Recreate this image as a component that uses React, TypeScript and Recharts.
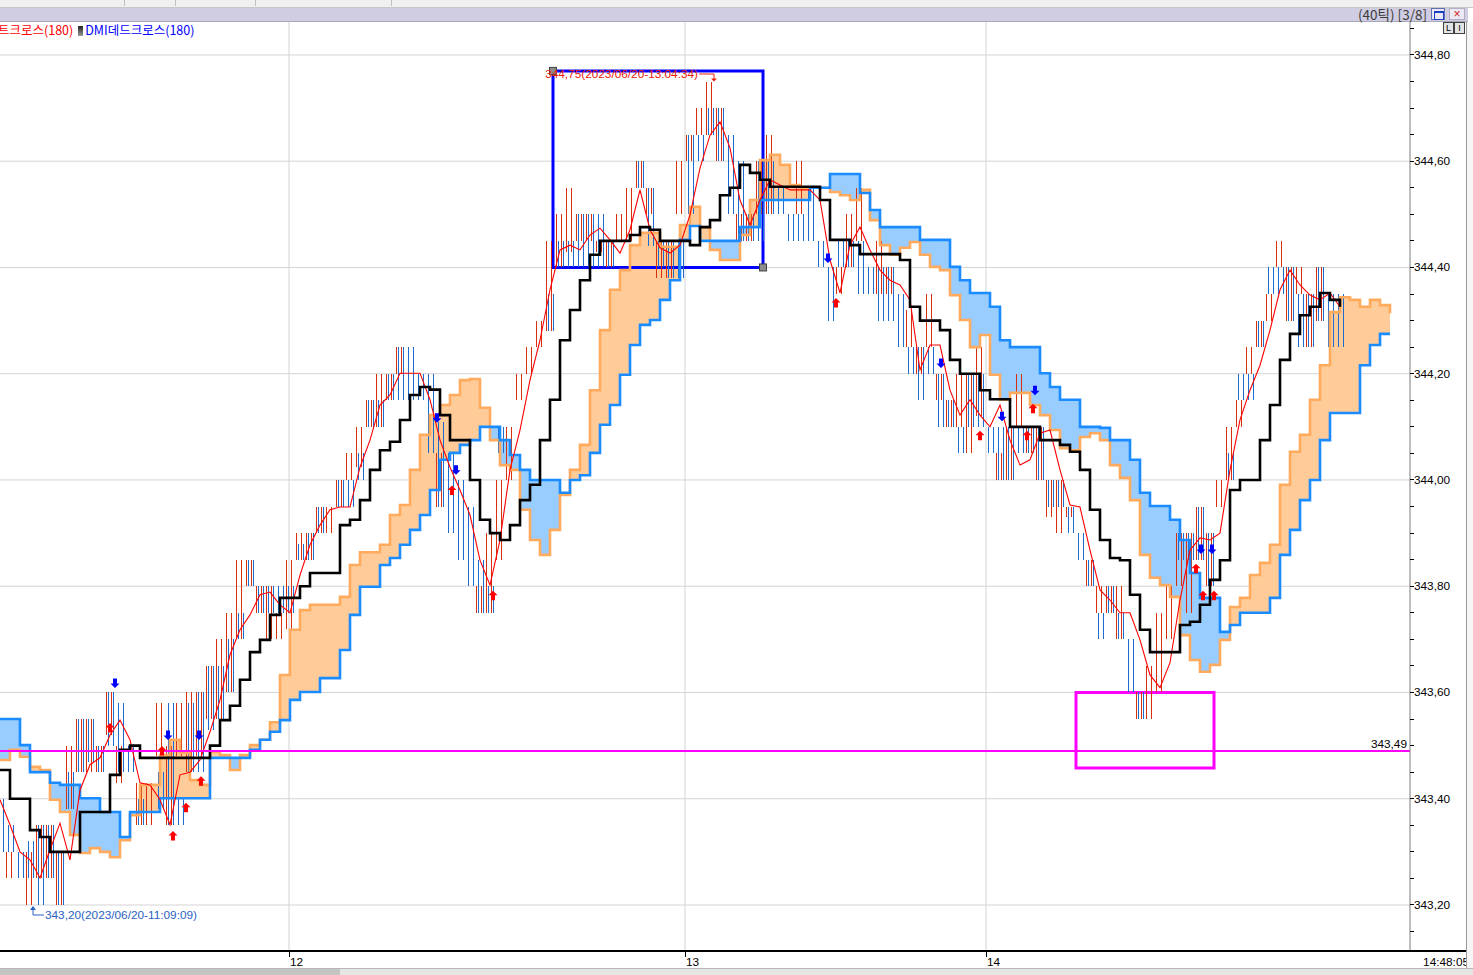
import React from 'react';
import {
  ComposedChart, Line, Area, Bar, Scatter, XAxis, YAxis, CartesianGrid,
  ReferenceLine, ReferenceArea,
} from 'recharts';

const W = 1473;
const H = 975;
const SLOTS = 142; // each slot ~ one 10px time bucket of the tick chart

const NUM_FONT = "'Liberation Sans', Arial, sans-serif";
const KR_FONT = "'Noto Sans CJK KR', 'Noto Sans', sans-serif";

const HOUR_TICKS = [28.9, 68.5, 98.6];
const HOUR_LABELS = ['12', '13', '14'];
const LAST_TIME = '14:48:05';

const PRICE_GRID = [343.2, 343.4, 343.6, 343.8, 344.0, 344.2, 344.4, 344.6, 344.8];
const PRICE_TICKS = [
  343.15, 343.2, 343.25, 343.3, 343.35, 343.4, 343.45, 343.5, 343.55, 343.6, 343.65, 343.7,
  343.75, 343.8, 343.85, 343.9, 343.95, 344.0, 344.05, 344.1, 344.15, 344.2, 344.25, 344.3,
  344.35, 344.4, 344.45, 344.5, 344.55, 344.6, 344.65, 344.7, 344.75, 344.8, 344.85,
];

// conversion line (black step)
const TENKAN = [
  343.454, 343.40, 343.40, 343.341, 343.328, 343.30, 343.30, 343.30, 343.375, 343.375,
  343.375, 343.445, 343.492, 343.50, 343.477, 343.477, 343.477, 343.477, 343.477, 343.477,
  343.477, 343.50, 343.548, 343.575, 343.624, 343.676, 343.699, 343.746, 343.778, 343.778,
  343.80, 343.825, 343.825, 343.825, 343.915, 343.925, 343.962, 344.019, 344.056, 344.072,
  344.113, 344.16, 344.175, 344.17, 344.122, 344.075, 344.075, 344.00, 343.925, 343.90,
  343.887, 343.915, 343.962, 343.991, 344.075, 344.151, 344.263, 344.32, 344.376, 344.424,
  344.45, 344.45, 344.45, 344.461, 344.476, 344.471, 344.45, 344.45, 344.45, 344.442,
  344.476, 344.489, 344.536, 344.55, 344.593, 344.578, 344.565, 344.552, 344.552, 344.552,
  344.552, 344.552, 344.527, 344.452, 344.452, 344.442, 344.425, 344.425, 344.425, 344.425,
  344.414, 344.326, 344.30, 344.30, 344.282, 344.226, 344.20, 344.20, 344.169, 344.152,
  344.152, 344.10, 344.10, 344.10, 344.075, 344.075, 344.066, 344.053, 344.019, 343.944,
  343.887, 343.853, 343.849, 343.784, 343.718, 343.676, 343.676, 343.676, 343.727, 343.733,
  343.765, 343.812, 343.849, 343.981, 344.00, 344.00, 344.075, 344.141, 344.226, 344.275,
  344.31, 344.326, 344.352, 344.339, 344.326,
];

// fast moving average (thin red)
const PRICE_MA = [
  343.398, 343.351, 343.30, 343.285, 343.251, 343.304, 343.354, 343.285, 343.416, 343.464,
  343.477, 343.52, 343.548, 343.511, 343.43, 343.426, 343.398, 343.351, 343.445, 343.45,
  343.473, 343.526, 343.586, 343.671, 343.718, 343.746, 343.784, 343.789, 343.765, 343.75,
  343.821, 343.878, 343.915, 343.944, 343.949, 343.949, 344.024, 344.075, 344.141, 344.16,
  344.201, 344.201, 344.201, 344.151, 344.075, 344.024, 343.981, 343.934, 343.849, 343.802,
  343.887, 344.019, 344.094, 344.188, 344.263, 344.358, 344.433, 344.442, 344.433, 344.461,
  344.474, 344.452, 344.427, 344.471, 344.546, 344.471, 344.437, 344.427, 344.442, 344.499,
  344.587, 344.649, 344.674, 344.625, 344.527, 344.48, 344.527, 344.565, 344.555, 344.546,
  344.546, 344.546, 344.527, 344.414, 344.352, 344.442, 344.476, 344.433, 344.395, 344.376,
  344.367, 344.339, 344.207, 344.254, 344.254, 344.169, 344.122, 344.151, 344.122, 344.10,
  344.141, 344.075, 344.028, 344.038, 344.088, 344.094, 344.019, 343.953, 343.949, 343.868,
  343.793, 343.774, 343.75, 343.75, 343.699, 343.633, 343.609, 343.656, 343.774, 343.868,
  343.891, 343.887, 343.90, 344.019, 344.113, 344.169, 344.216, 344.282, 344.358, 344.395,
  344.367, 344.348, 344.339, 344.352, 344.326,
];

// leading span A (orange edge)
const SPAN_A = [
  343.473, 343.492, 343.479, 343.46, 343.454, 343.398, 343.375, 343.332, 343.298, 343.307,
  343.30, 343.29, 343.322, 343.369, 343.426, 343.426, 343.482, 343.511, 343.486, 343.435,
  343.426, 343.488, 343.482, 343.454, 343.482, 343.501, 343.511, 343.544, 343.633, 343.718,
  343.755, 343.765, 343.765, 343.765, 343.78, 343.84, 343.864, 343.864, 343.878, 343.934,
  343.953, 344.019, 344.085, 344.122, 344.141, 344.16, 344.188, 344.19, 344.136, 344.075,
  344.028, 344.019, 343.944, 343.887, 343.859, 343.906, 343.972, 344.019, 344.066, 344.169,
  344.282, 344.358, 344.395, 344.442, 344.465, 344.465, 344.439, 344.439, 344.48, 344.514,
  344.476, 344.433, 344.414, 344.414, 344.461, 344.527, 344.602, 344.612, 344.593, 344.555,
  344.55, 344.55, 344.55, 344.542, 344.536, 344.527, 344.546, 344.489, 344.442, 344.424,
  344.437, 344.448, 344.424, 344.401, 344.395, 344.348, 344.301, 344.25, 344.273, 344.198,
  344.151, 344.164, 344.164, 344.141, 344.122, 344.094, 344.06, 344.056, 344.081, 344.088,
  344.075, 344.028, 344.004, 343.962, 343.859, 343.816, 343.802, 343.78, 343.708, 343.661,
  343.639, 343.652, 343.699, 343.761, 343.778, 343.821, 343.844, 343.878, 343.991, 344.053,
  344.085, 344.151, 344.216, 344.316, 344.344, 344.339, 344.326, 344.339, 344.329, 344.314,
];

// leading span B (blue edge)
const SPAN_B = [
  343.55, 343.55, 343.501, 343.45, 343.45, 343.43, 343.426, 343.426, 343.401, 343.401,
  343.375, 343.375, 343.328, 343.375, 343.375, 343.375, 343.401, 343.401, 343.401, 343.401,
  343.401, 343.477, 343.477, 343.477, 343.477, 343.492, 343.511, 343.526, 343.548, 343.586,
  343.601, 343.601, 343.627, 343.627, 343.68, 343.746, 343.799, 343.799, 343.84, 343.853,
  343.878, 343.906, 343.934, 343.981, 344.038, 344.051, 344.066, 344.075, 344.10, 344.10,
  344.075, 344.047, 344.019, 344.00, 344.00, 344.00, 343.976, 344.00, 344.009, 344.051,
  344.104, 344.141, 344.198, 344.254, 344.292, 344.301, 344.339, 344.376, 344.452, 344.478,
  344.45, 344.45, 344.45, 344.45, 344.476, 344.476, 344.527, 344.527, 344.527, 344.527,
  344.527, 344.55, 344.55, 344.576, 344.576, 344.576, 344.54, 344.508, 344.476, 344.476,
  344.476, 344.476, 344.452, 344.452, 344.452, 344.401, 344.376, 344.352, 344.352, 344.326,
  344.263, 344.25, 344.25, 344.25, 344.201, 344.175, 344.151, 344.151, 344.10, 344.10,
  344.098, 344.075, 344.075, 344.038, 343.976, 343.951, 343.951, 343.925, 343.887, 343.825,
  343.778, 343.778, 343.714, 343.727, 343.75, 343.75, 343.75, 343.778, 343.859, 343.906,
  343.962, 344.00, 344.075, 344.126, 344.126, 344.126, 344.216, 344.254, 344.275, 344.275,
];

// up-tick clusters [low, high]
const RED_TICKS: ([number, number] | null)[] = [
  null, [343.25, 343.30], null, [343.20, 343.30], [343.25, 343.35], [343.25, 343.35], [343.20, 343.30], [343.38, 343.50], [343.45, 343.55], [343.45, 343.55],
  [343.45, 343.50], [343.52, 343.60], [343.43, 343.50], null, [343.35, 343.43], [343.35, 343.43], [343.48, 343.58], [343.35, 343.50], [343.48, 343.58], [343.45, 343.60],
  [343.48, 343.60], [343.55, 343.65], [343.55, 343.70], [343.60, 343.75], [343.70, 343.85], [343.80, 343.85], [343.75, 343.80], [343.70, 343.80], [343.70, 343.75], [343.72, 343.85],
  [343.85, 343.90], [343.85, 343.90], [343.90, 343.95], [343.90, 343.95], [343.95, 344.00], [344.00, 344.05], [344.025, 344.10], [344.10, 344.15], [344.10, 344.20], [344.15, 344.20],
  [344.20, 344.25], null, null, null, [343.95, 344.05], null, null, null, [343.75, 343.80], [343.75, 343.90],
  [343.85, 344.00], [344.00, 344.10], [344.15, 344.20], [344.20, 344.25], [344.25, 344.30], [344.28, 344.45], [344.40, 344.50], [344.43, 344.55], [344.45, 344.50], [344.45, 344.50],
  [344.43, 344.45], [344.40, 344.45], [344.45, 344.50], [344.45, 344.55], [344.55, 344.60], [344.50, 344.55], [344.38, 344.45], [344.38, 344.45], [344.50, 344.60], [344.60, 344.65],
  [344.65, 344.70], [344.65, 344.75], [344.60, 344.70], null, [344.45, 344.50], [344.45, 344.50], [344.50, 344.60], [344.50, 344.65], null, null,
  [344.50, 344.60], null, null, null, [344.35, 344.40], [344.40, 344.50], [344.45, 344.55], null, [344.35, 344.45], [344.35, 344.40],
  null, [344.25, 344.32], [344.20, 344.25], [344.25, 344.35], [344.15, 344.20], [344.10, 344.15], [344.10, 344.20], [344.05, 344.20], [344.12, 344.25], null,
  [344.00, 344.05], [344.00, 344.10], [344.10, 344.20], [344.05, 344.10], [344.00, 344.10], [343.93, 344.00], [343.90, 344.00], [343.93, 343.95], null, [343.80, 343.85],
  [343.75, 343.80], [343.75, 343.80], [343.70, 343.80], null, [343.55, 343.60], [343.55, 343.65], [343.60, 343.75], [343.70, 343.80], [343.80, 343.90], [343.75, 343.90],
  [343.85, 343.95], [343.80, 343.90], [343.95, 344.00], [344.00, 344.10], [344.10, 344.15], [344.20, 344.25], [344.25, 344.30], [344.30, 344.35], [344.40, 344.45], [344.30, 344.40],
  [344.35, 344.40], [344.25, 344.35], [344.30, 344.40], null, null,
];

// down-tick clusters [low, high]
const BLUE_TICKS: ([number, number] | null)[] = [
  [343.30, 343.40], [343.30, 343.35], [343.25, 343.30], [343.25, 343.32], [343.20, 343.35], [343.25, 343.35], [343.20, 343.30], [343.38, 343.45], [343.45, 343.55], [343.47, 343.55],
  [343.45, 343.50], [343.50, 343.60], [343.45, 343.58], [343.45, 343.50], [343.35, 343.40], null, [343.38, 343.45], [343.35, 343.58], [343.35, 343.40], [343.45, 343.58],
  [343.45, 343.60], [343.53, 343.65], [343.55, 343.65], [343.60, 343.70], [343.70, 343.75], [343.80, 343.85], [343.75, 343.80], [343.75, 343.80], [343.75, 343.80], [343.75, 343.80],
  [343.85, 343.88], [343.85, 343.90], [343.90, 343.95], null, [343.95, 344.00], [343.95, 344.00], [344.00, 344.05], [344.10, 344.15], [344.10, 344.15], [344.15, 344.20],
  [344.15, 344.25], [344.15, 344.25], [344.15, 344.20], [344.05, 344.20], [343.95, 344.11], [343.90, 344.05], [343.85, 344.00], [343.80, 343.95], [343.75, 343.85], [343.75, 343.80],
  [344.05, 344.10], null, null, null, null, [344.28, 344.35], [344.40, 344.45], [344.40, 344.45], [344.40, 344.50], [344.40, 344.50],
  [344.40, 344.50], [344.40, 344.45], null, null, [344.55, 344.60], [344.44, 344.55], [344.40, 344.45], [344.38, 344.45], [344.38, 344.45], [344.50, 344.65],
  [344.60, 344.65], [344.65, 344.70], [344.60, 344.70], [344.50, 344.65], [344.45, 344.60], [344.45, 344.50], [344.45, 344.60], [344.50, 344.60], [344.50, 344.55], [344.45, 344.50],
  [344.45, 344.50], [344.45, 344.55], [344.40, 344.45], [344.30, 344.40], [344.40, 344.45], [344.40, 344.45], [344.35, 344.45], [344.35, 344.40], [344.30, 344.40], [344.30, 344.40],
  [344.25, 344.35], [344.20, 344.25], [344.15, 344.25], [344.20, 344.25], [344.10, 344.20], [344.10, 344.15], [344.05, 344.10], [344.10, 344.20], [344.10, 344.20], [344.05, 344.10],
  [344.00, 344.10], [344.00, 344.10], [344.05, 344.10], [344.05, 344.10], [344.00, 344.10], [343.95, 344.00], [343.95, 344.00], [343.90, 343.95], [343.85, 343.90], [343.80, 343.85],
  [343.70, 343.75], [343.75, 343.80], [343.70, 343.75], [343.60, 343.70], [343.55, 343.60], null, null, null, [343.85, 343.90], [343.85, 343.90],
  [343.85, 343.95], [343.80, 343.90], null, [344.00, 344.05], [344.15, 344.20], [344.15, 344.20], [344.25, 344.30], [344.35, 344.40], [344.35, 344.40], [344.30, 344.40],
  [344.25, 344.35], [344.25, 344.35], [344.30, 344.40], [344.25, 344.35], [344.25, 344.35],
];

// signal arrows (slot position, price)
const BUY_SIGNALS = [
  { i: 11.0, p: 343.533 }, { i: 16.2, p: 343.49 }, { i: 17.3, p: 343.33 }, { i: 18.6, p: 343.383 },
  { i: 20.1, p: 343.433 }, { i: 45.2, p: 343.98 }, { i: 49.3, p: 343.782 }, { i: 83.6, p: 344.333 },
  { i: 98.0, p: 344.083 }, { i: 102.7, p: 344.083 }, { i: 103.3, p: 344.134 }, { i: 119.6, p: 343.833 },
  { i: 120.3, p: 343.782 }, { i: 121.4, p: 343.782 },
];
const SELL_SIGNALS = [
  { i: 11.5, p: 343.618 }, { i: 16.8, p: 343.52 }, { i: 19.9, p: 343.52 }, { i: 43.7, p: 344.117 },
  { i: 45.6, p: 344.019 }, { i: 82.8, p: 344.418 }, { i: 94.1, p: 344.22 }, { i: 100.2, p: 344.12 },
  { i: 103.5, p: 344.169 }, { i: 120.1, p: 343.87 }, { i: 121.2, p: 343.87 },
];

const HIGH_MARK = [{ i: 71.3, p: 344.75 }];
const HIGH_TEXT = '344,75(2023/06/20-13:04:34)';
const LOW_MARK = [{ i: 3.3, p: 343.2 }];
const LOW_TEXT = '343,20(2023/06/20-11:09:09)';
const BLUE_BOX = { i1: 55.3, i2: 76.3, p1: 344.4, p2: 344.77 };
const BOX_HANDLES = [{ i: 55.3, p: 344.77 }, { i: 76.3, p: 344.4 }];
const MAGENTA_BOX = { i1: 107.6, i2: 121.4, p1: 343.458, p2: 343.6 };
const MAGENTA_LEVEL = 343.49;
const LAST_PRICE = [{ i: 141, p: 344.3 }];
const LAST_LINES = ['344,30', '- 0,23%', '\u25BC0,80'];

const fmt = (v: number) => v.toFixed(2).replace('.', ',');

function YTick(props: any) {
  const { x, y, payload } = props;
  const v = payload.value as number;
  const major = Math.abs(v * 5 - Math.round(v * 5)) < 1e-6;
  return (
    <g>
      <line x1={x} x2={x + 4} y1={y} y2={y} stroke="#000" shapeRendering="crispEdges" />
      {major && (
        <text x={x + 4} y={y + 4} fontSize={11.8} fill="#000" fontFamily={NUM_FONT}>
          {fmt(v)}
        </text>
      )}
    </g>
  );
}

function XTick(props: any) {
  const { x, y, payload } = props;
  const idx = HOUR_TICKS.indexOf(payload.value);
  return (
    <g>
      <line x1={x} x2={x} y1={y} y2={y + 6} stroke="#000" shapeRendering="crispEdges" />
      <text x={x + 1} y={y + 15} fontSize={11.8} fill="#000" fontFamily={NUM_FONT}>
        {HOUR_LABELS[idx]}
      </text>
    </g>
  );
}

const RED_TICK = '#d8300c';
const BLUE_TICK = '#1c6ccf';
const RED_OFFSETS = [-4, 1];
const BLUE_OFFSETS = [-2, 3];

// one bar per slot spanning all ticks of the slot; sub-ranges are placed
// inside the bar rectangle by linear interpolation of the bar's own scale
const TickCluster = (props: any) => {
  const { x, y, width, height, payload } = props;
  const span = payload && payload.tick;
  if (!span || x == null || !isFinite(height) || height <= 0) return <g />;
  const [lo, hi] = span as [number, number];
  const k = height / (hi - lo);
  const toY = (p: number) => y + (hi - p) * k;
  const c = Math.round(x + width / 2);
  const out: any[] = [];
  const add = (r: [number, number] | null, offs: number[], color: string, key: string) => {
    if (!r) return;
    offs.forEach((o, n) => {
      out.push(
        <line key={key + n} x1={c + o + 0.5} x2={c + o + 0.5} y1={toY(r[1])} y2={toY(r[0])} stroke={color} strokeWidth={1} />
      );
    });
  };
  add(payload.rTick, RED_OFFSETS, RED_TICK, 'r');
  add(payload.bTick, BLUE_OFFSETS, BLUE_TICK, 'b');
  return <g shapeRendering="crispEdges">{out}</g>;
};

const UpArrow = (props: any) => {
  const { cx, cy } = props;
  return (
    <polygon
      points={`${cx},${cy - 5} ${cx + 4.5},${cy - 0.5} ${cx + 2},${cy - 0.5} ${cx + 2},${cy + 4.5} ${cx - 2},${cy + 4.5} ${cx - 2},${cy - 0.5} ${cx - 4.5},${cy - 0.5}`}
      fill="#ff0000"
    />
  );
};
const DownArrow = (props: any) => {
  const { cx, cy } = props;
  return (
    <polygon
      points={`${cx},${cy + 5} ${cx + 4.5},${cy + 0.5} ${cx + 2},${cy + 0.5} ${cx + 2},${cy - 4.5} ${cx - 2},${cy - 4.5} ${cx - 2},${cy + 0.5} ${cx - 4.5},${cy + 0.5}`}
      fill="#0000ff"
    />
  );
};

const HighShape = (props: any) => {
  const { cx, cy } = props;
  const c = '#e8200c';
  return (
    <g>
      <text x={cx - 15} y={cy - 3.5} textAnchor="end" fontSize={11.8} fill={c} fontFamily={NUM_FONT}>
        {HIGH_TEXT}
      </text>
      <polyline points={`${cx - 14},${cy - 7.5} ${cx + 1},${cy - 7.5} ${cx + 1},${cy - 2}`} stroke={c} fill="none" />
      <polygon points={`${cx - 2},${cy - 3} ${cx + 4},${cy - 3} ${cx + 1},${cy}`} fill={c} />
    </g>
  );
};

const LowShape = (props: any) => {
  const { cx, cy } = props;
  const c = '#2a62c4';
  return (
    <g>
      <polyline points={`${cx},${cy + 2} ${cx},${cy + 10} ${cx + 11},${cy + 10}`} stroke={c} fill="none" />
      <polygon points={`${cx - 3},${cy + 5} ${cx + 3},${cy + 5} ${cx},${cy + 1}`} fill={c} />
      <text x={cx + 12} y={cy + 14} fontSize={11.8} fill={c} fontFamily={NUM_FONT}>
        {LOW_TEXT}
      </text>
    </g>
  );
};

const HandleShape = (props: any) => {
  const { cx, cy } = props;
  return <rect x={cx - 3.5} y={cy - 3.5} width={7} height={7} fill="#8c8c8c" stroke="#404040" strokeWidth={1} />;
};

const LastPriceShape = (props: any) => {
  const { cx, cy } = props;
  return (
    <g>
      <polygon
        points={`${cx + 2},${cy} ${cx + 8},${cy - 20} ${cx + 55},${cy - 20} ${cx + 55},${cy + 18} ${cx + 8},${cy + 18}`}
        fill="#3d7ce8"
      />
      {LAST_LINES.map((t, k) => (
        <text key={k} x={cx + 31} y={cy - 9.5 + k * 12.3} textAnchor="middle" fontSize={11.8} fill="#fff" fontFamily={NUM_FONT}>
          {t}
        </text>
      ))}
    </g>
  );
};

export default function App() {
  const rows: any[] = [];
  for (let i = 0; i < SLOTS; i++) {
    const a = SPAN_A[i] ?? null;
    const b = SPAN_B[i] ?? null;
    const top = a != null && b != null ? Math.max(a, b) : null;
    const r = RED_TICKS[i] ?? null;
    const bt = BLUE_TICKS[i] ?? null;
    let tick: [number, number] | null = null;
    if (r || bt) {
      const los = [r && r[0], bt && bt[0]].filter((v) => v != null) as number[];
      const his = [r && r[1], bt && bt[1]].filter((v) => v != null) as number[];
      tick = [Math.min(...los), Math.max(...his)];
    }
    rows.push({
      i,
      tenkan: TENKAN[i] ?? null,
      ma: PRICE_MA[i] ?? null,
      spanA: a,
      spanB: b,
      upFill: top != null ? [b, top] : null,
      dnFill: top != null ? [a, top] : null,
      rTick: r,
      bTick: bt,
      tick,
    });
  }

  return (
    <div style={{ position: 'absolute', left: 0, top: 0, width: W, height: H, background: '#fff', overflow: 'hidden' }}>
      {/* window chrome */}
      <div style={{ position: 'absolute', left: 0, top: 0, width: W, height: 7, background: '#f0f0f0', borderBottom: '1px solid #c8c8c8' }} />
      <div style={{ position: 'absolute', left: 124, top: 0, width: 50, height: 6, borderLeft: '1px solid #c0c0c0', borderRight: '1px solid #c0c0c0' }} />
      <div style={{ position: 'absolute', left: 255, top: 0, width: 135, height: 6, borderLeft: '1px solid #c0c0c0', borderRight: '1px solid #c0c0c0' }} />
      <div style={{ position: 'absolute', left: 0, top: 8, width: 1468, height: 13, background: '#d0cde3', borderBottom: '1px solid #a8a8b8' }} />
      <div style={{ position: 'absolute', left: 1280, top: 6, width: 147, height: 16, textAlign: 'right', fontFamily: KR_FONT, fontSize: 13.5, lineHeight: '16px', color: '#3c3c3c' }}>
        (40틱) [3/8]
      </div>
      <div style={{ position: 'absolute', left: 1431, top: 8, width: 14, height: 12, background: '#e8e8f8', border: '1px solid #6070b0', boxSizing: 'border-box' }}>
        <div style={{ position: 'absolute', left: 2, top: 2, width: 8, height: 6, border: '1px solid #1840c0', borderTop: '2px solid #1840c0' }} />
      </div>
      <div style={{ position: 'absolute', left: 1449, top: 8, width: 16, height: 12, background: '#ece9f4', border: '1px solid #b0b0c0', boxSizing: 'border-box', color: '#d02020', fontSize: 12, lineHeight: '10px', textAlign: 'center', fontFamily: NUM_FONT }}>
        ×
      </div>

      <ComposedChart width={W} height={H} data={rows} margin={{ top: 22, right: 0, bottom: 0, left: 0 }} barGap={0}>
        <CartesianGrid horizontalValues={PRICE_GRID} verticalValues={HOUR_TICKS} stroke="#d4d4d4" />
        <XAxis
          type="number" dataKey="i" domain={[0, 141]} ticks={HOUR_TICKS} interval={0}
          allowDataOverflow height={24} tickSize={0} tickMargin={0} tickLine={false} axisLine={false}
          tick={<XTick />}
        />
        <YAxis
          orientation="right" domain={[343.1134, 344.862]} ticks={PRICE_TICKS} interval={0}
          allowDataOverflow width={63} tickSize={0} tickMargin={0} tickLine={false}
          axisLine={{ stroke: '#7c7c7c', strokeWidth: 1 }} tick={<YTick />}
        />
        <Area type="stepAfter" dataKey="upFill" fill="#ffcc99" fillOpacity={1} stroke="none" isAnimationActive={false} connectNulls={false} />
        <Area type="stepAfter" dataKey="dnFill" fill="#99ccff" fillOpacity={1} stroke="none" isAnimationActive={false} connectNulls={false} />
        <Line type="stepAfter" dataKey="spanA" stroke="#ffaa5c" strokeWidth={2.6} dot={false} activeDot={false} isAnimationActive={false} />
        <Line type="stepAfter" dataKey="spanB" stroke="#1a8cff" strokeWidth={2.6} dot={false} activeDot={false} isAnimationActive={false} />
        <Bar dataKey="tick" barSize={10} shape={TickCluster} isAnimationActive={false} />
        <Line type="linear" dataKey="ma" stroke="#ff0000" strokeWidth={1.1} dot={false} activeDot={false} isAnimationActive={false} />
        <Line type="stepAfter" dataKey="tenkan" stroke="#000" strokeWidth={2.6} dot={false} activeDot={false} isAnimationActive={false} />
        <ReferenceLine
          y={MAGENTA_LEVEL} stroke="#ff00ff" strokeWidth={2}
          label={{ value: fmt(MAGENTA_LEVEL), position: 'insideBottomRight', offset: 3, fill: '#000', fontSize: 11.8, fontFamily: NUM_FONT }}
        />
        <ReferenceArea x1={BLUE_BOX.i1} x2={BLUE_BOX.i2} y1={BLUE_BOX.p1} y2={BLUE_BOX.p2} fill="none" fillOpacity={0} stroke="#0000ff" strokeWidth={3} />
        <ReferenceArea x1={MAGENTA_BOX.i1} x2={MAGENTA_BOX.i2} y1={MAGENTA_BOX.p1} y2={MAGENTA_BOX.p2} fill="none" fillOpacity={0} stroke="#ff00ff" strokeWidth={3} />
        <Scatter data={BOX_HANDLES} dataKey="p" shape={HandleShape} isAnimationActive={false} />
        <Scatter data={BUY_SIGNALS} dataKey="p" shape={UpArrow} isAnimationActive={false} />
        <Scatter data={SELL_SIGNALS} dataKey="p" shape={DownArrow} isAnimationActive={false} />
        <Scatter data={HIGH_MARK} dataKey="p" shape={HighShape} isAnimationActive={false} />
        <Scatter data={LOW_MARK} dataKey="p" shape={LowShape} isAnimationActive={false} />
        <Scatter data={LAST_PRICE} dataKey="p" shape={LastPriceShape} isAnimationActive={false} />
      </ComposedChart>

      {/* legend of signal studies */}
      <div style={{ position: 'absolute', left: -2, top: 22, height: 16, fontFamily: KR_FONT, fontSize: 12.5, lineHeight: '16px', whiteSpace: 'nowrap' }}>
        <span style={{ color: '#ff0000' }}>트크로스(180)</span>
        <span style={{ display: 'inline-block', width: 5, height: 10, margin: '0 2px 0 5px', background: 'linear-gradient(#222,#999)', verticalAlign: '-1px' }} />
        <span style={{ color: '#0000ff' }}>DMI데드크로스(180)</span>
      </div>
      {/* small L / I buttons */}
      <div style={{ position: 'absolute', left: 1443, top: 22, width: 9, height: 10, border: '1px solid #404040', background: '#e4e4e4', fontSize: 9, lineHeight: '10px', textAlign: 'center', fontFamily: NUM_FONT }}>L</div>
      <div style={{ position: 'absolute', left: 1454, top: 22, width: 9, height: 10, border: '1px solid #404040', background: '#e4e4e4', fontSize: 9, lineHeight: '10px', textAlign: 'center', fontFamily: NUM_FONT }}>I</div>
      {/* x axis base line and last time */}
      <div style={{ position: 'absolute', left: 0, top: 950, width: 1468, height: 2, background: '#000' }} />
      <div style={{ position: 'absolute', left: 1418, top: 955, width: 51, textAlign: 'right', fontFamily: NUM_FONT, fontSize: 11.8, lineHeight: '14px', color: '#000' }}>{LAST_TIME}</div>
      {/* right side panel edge */}
      <div style={{ position: 'absolute', left: 1466, top: 22, width: 1, height: 946, background: '#9a9a9a' }} />
      <div style={{ position: 'absolute', left: 1467, top: 22, width: 6, height: 946, background: '#f6f6f6' }} />
      {/* scrollbar */}
      <div style={{ position: 'absolute', left: 0, top: 968, width: W, height: 7, background: '#e6e6e6', borderTop: '1px solid #b8b8b8' }} />
      <div style={{ position: 'absolute', left: 0, top: 969, width: 340, height: 6, background: '#c4c4c4' }} />
    </div>
  );
}
